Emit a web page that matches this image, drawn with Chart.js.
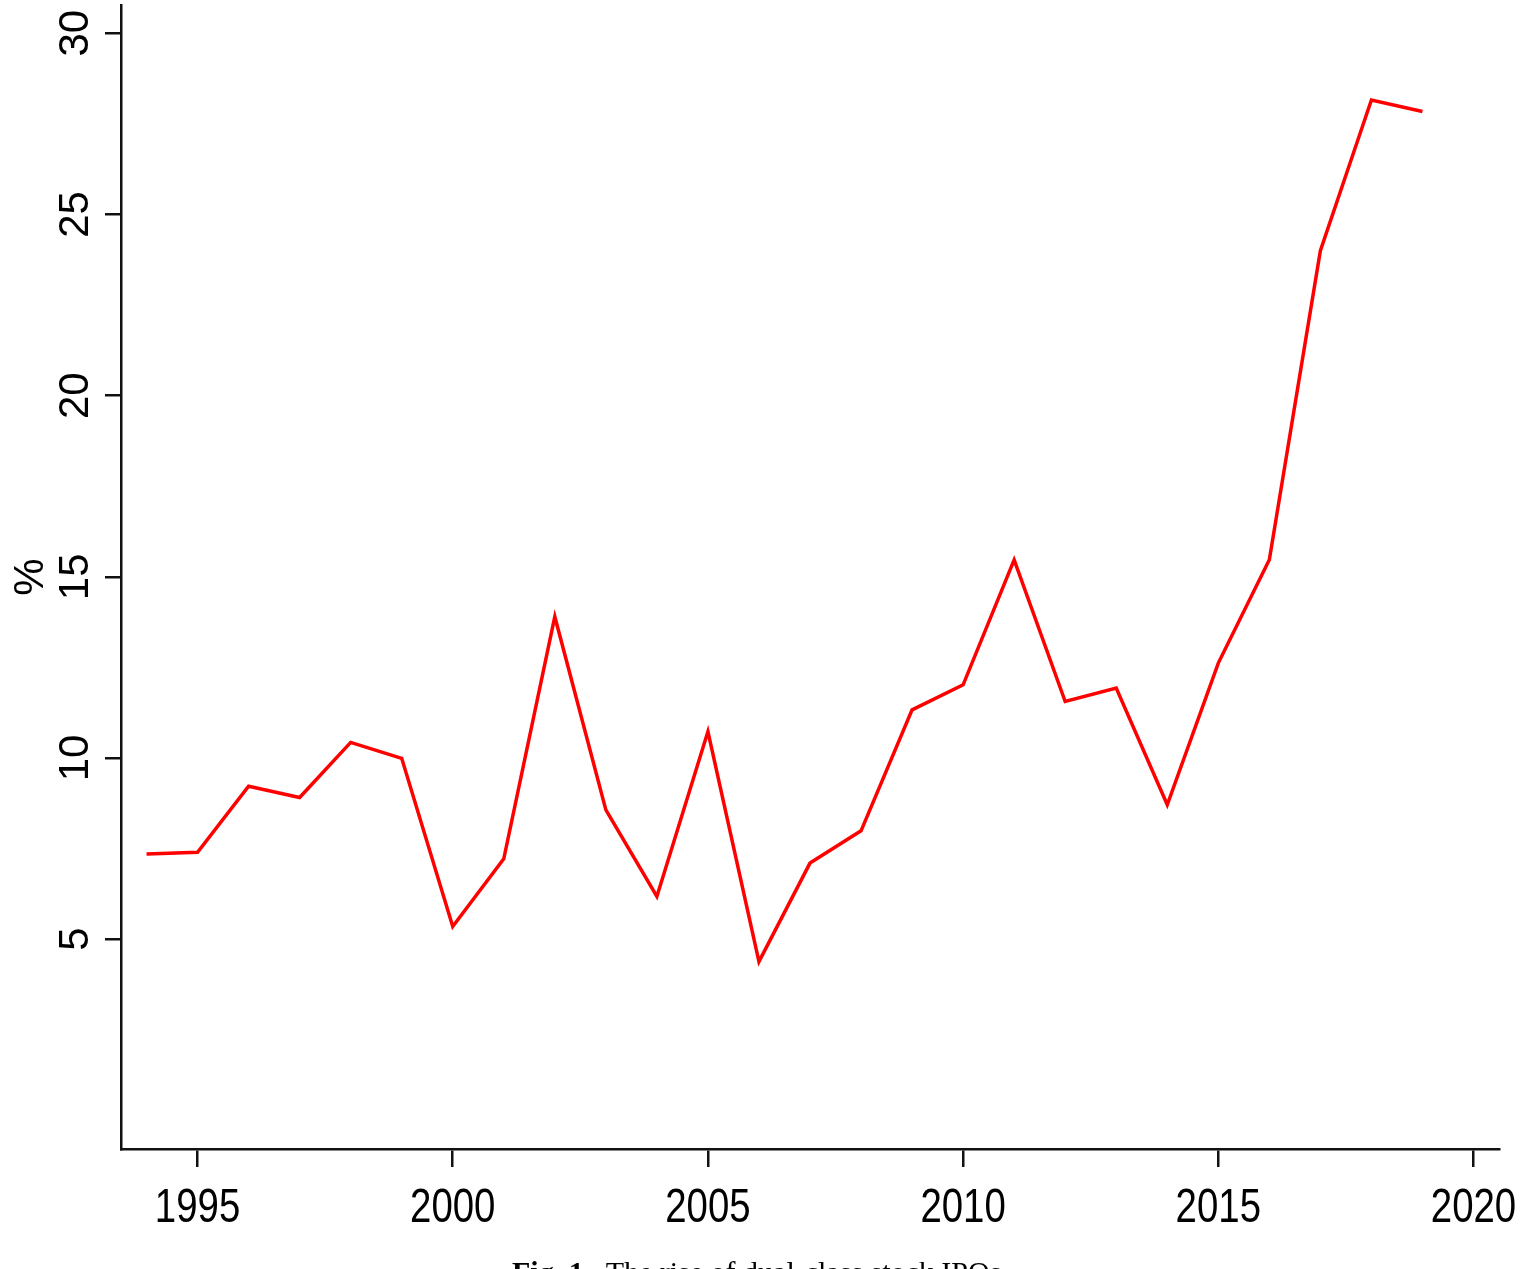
<!DOCTYPE html>
<html>
<head>
<meta charset="utf-8">
<script src="https://cdn.jsdelivr.net/npm/chart.js@4/dist/chart.umd.min.js"></script>
<style>
  html, body { margin: 0; padding: 0; background: #fff; overflow: hidden; }
  #wrap { position: relative; width: 1534px; height: 1269px; overflow: hidden; }
  #caption {
    position: absolute;
    left: 512px;
    top: 1257px;
    font: 30px/30px "Liberation Serif", "Times New Roman", serif;
    color: #000;
    white-space: nowrap;
  }
</style>
</head>
<body>
<div id="wrap">
  <canvas id="ipoChart" width="1534" height="1269"></canvas>
  <div id="caption"><b>Fig. 1.</b>&nbsp; The rise of dual-class stock IPOs.</div>
</div>
<script>
/* ─── Data ─── */
const years = [
  1994, 1995, 1996, 1997, 1998, 1999, 2000, 2001, 2002, 2003, 2004, 2005, 2006,
  2007, 2008, 2009, 2010, 2011, 2012, 2013, 2014, 2015, 2016, 2017, 2018, 2019,
];
const dualClassShare = [
  7.35, 7.4, 9.22, 8.91, 10.43, 9.99, 5.35, 7.22, 13.9, 8.57, 6.18, 10.73, 4.38,
  7.1, 7.99, 11.33, 12.02, 15.47, 11.56, 11.93, 8.71, 12.62, 15.47, 24.0, 28.16, 27.84,
];
const xTicks = [1995, 2000, 2005, 2010, 2015, 2020];
const yTicks = [5, 10, 15, 20, 25, 30];
const yTitle = "%";

const axisColor = "#111";

/* ─── Tick labels (rotated y, condensed x) ─── */
const labelPlugin = {
  id: "stataLabels",
  afterDraw(chart) {
    const c = chart.ctx;
    const xs = chart.scales.x;
    const ys = chart.scales.y;
    c.save();
    c.fillStyle = "#000";

    // y labels, read bottom-to-top
    c.font = '42px "Liberation Sans", Arial, sans-serif';
    c.textAlign = "center";
    c.textBaseline = "middle";
    yTicks.forEach((v) => {
      const py = ys.getPixelForValue(v);
      c.save();
      c.translate(76, py);
      c.rotate(-Math.PI / 2);
      c.fillText(String(v), 0, 0);
      c.restore();
    });

    // y title
    c.save();
    c.translate(31, (chart.chartArea.top + chart.chartArea.bottom) / 2);
    c.rotate(-Math.PI / 2);
    c.fillText(yTitle, 0, 0);
    c.restore();

    // x labels
    c.font = '48px "Liberation Sans", Arial, sans-serif';
    c.textBaseline = "alphabetic";
    xTicks.forEach((v) => {
      const px = xs.getPixelForValue(v);
      c.save();
      c.translate(px, 1222);
      c.scale(0.8, 1);
      c.fillText(String(v), 0, 0);
      c.restore();
    });
    c.restore();
  },
};

/* ─── Line Chart ─── */
const ctx = document.getElementById("ipoChart");

new Chart(ctx, {
  type: "line",
  data: {
    datasets: [
      {
        data: years.map((y, i) => ({ x: y, y: dualClassShare[i] })),
        borderColor: "#ff0000",
        borderWidth: 3.5,
        pointRadius: 0,
        tension: 0,
        fill: false,
      },
    ],
  },
  options: {
    responsive: false,
    animation: false,
    layout: { padding: { top: 5, right: 35, left: 0, bottom: 0 } },
    plugins: {
      legend: { display: false },
      tooltip: { enabled: false },
    },
    scales: {
      x: {
        type: "linear",
        min: 1993.5,
        max: 2020.5,
        afterBuildTicks: (s) => {
          s.ticks = xTicks.map((v) => ({ value: v }));
        },
        afterFit: (s) => {
          s.height = 120;
        },
        ticks: { display: false },
        grid: {
          drawOnChartArea: false,
          drawTicks: true,
          tickLength: 18,
          color: axisColor,
          lineWidth: 2.5,
        },
        border: { display: true, color: axisColor, width: 2.5 },
      },
      y: {
        min: -0.79,
        max: 30.78,
        afterBuildTicks: (s) => {
          s.ticks = yTicks.map((v) => ({ value: v }));
        },
        afterFit: (s) => {
          s.width = 121;
        },
        ticks: { display: false },
        grid: {
          drawOnChartArea: false,
          drawTicks: true,
          tickLength: 16,
          color: axisColor,
          lineWidth: 2.5,
        },
        border: { display: true, color: axisColor, width: 2.5 },
      },
    },
  },
  plugins: [labelPlugin],
});
</script>
</body>
</html>
